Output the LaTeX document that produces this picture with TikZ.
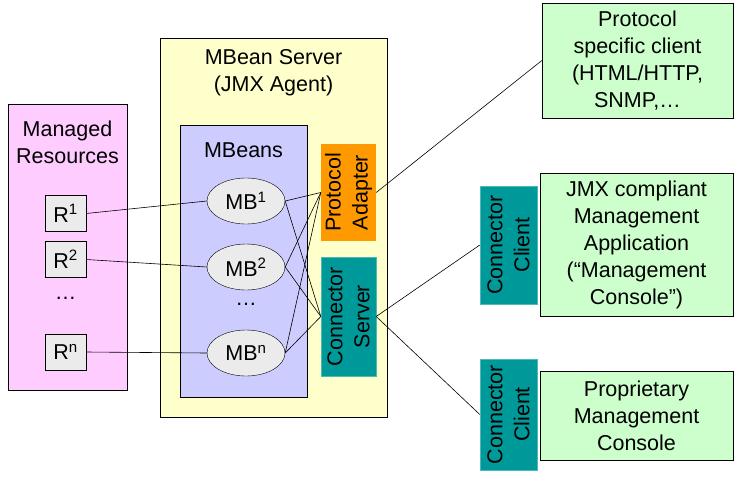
\documentclass[tikz,border=0pt]{standalone}
\usepackage{fontspec}
\setmainfont{Liberation Sans}
\usepackage{tikz}
\usetikzlibrary{shapes,positioning}
\usepackage{xcolor}

\definecolor{respink}{HTML}{FFCCFF}
\definecolor{srvyellow}{HTML}{FFFFCC}
\definecolor{beanblue}{HTML}{CCCCFF}
\definecolor{adaptorange}{HTML}{FF9900}
\definecolor{connteal}{HTML}{009999}
\definecolor{clientgreen}{HTML}{CCFFCC}
\definecolor{itemgray}{HTML}{EBEBEB}

\tikzset{
  panel/.style={draw, rectangle, inner sep=0pt},
  resbox/.style={draw, rectangle, fill=itemgray, minimum width=41, minimum height=36, inner sep=0pt},
  bean/.style={draw, ellipse, fill=itemgray, minimum width=78, minimum height=46, inner sep=0pt},
  vbox/.style={rectangle, rotate=90, align=center, inner sep=0pt},
  clientbox/.style={draw, rectangle, fill=clientgreen, align=center, inner sep=0pt},
  wire/.style={black, line width=0.6pt}
}

\begin{document}
\begin{tikzpicture}[x=1pt, y=-1pt, font=\fontsize{21.5}{27}\selectfont]
    \useasboundingbox (0,0) rectangle (741,485);

    % managed resources
    \node[panel, fill=respink, minimum width=119, minimum height=286] (managed) at (67.5,247) {};
    \node[align=center] (managedtxt) at (67.5,142) {Managed\\Resources};
    \node[resbox] (r1) at (65.5,213.5) {R\textsuperscript{1}};
    \node[resbox] (r2) at (65.5,259.5) {R\textsuperscript{2}};
    \node (rdots) at (65.5,298) {…};
    \node[resbox] (rn) at (65.5,352) {R\textsuperscript{n}};

    % agent
    \node[panel, fill=srvyellow, minimum width=227, minimum height=379] (server) at (273.5,227.5) {};
    \node[align=center] (servertxt) at (273.5,73) {MBean Server\\(JMX Agent)};
    \node[panel, fill=beanblue, minimum width=127, minimum height=272] (mbeans) at (243.5,261) {};
    \node (mbeanstxt) at (243.5,150) {MBeans};
    \node[bean] (mb1) at (246,201) {MB\textsuperscript{1}};
    \node[bean] (mb2) at (246,267) {MB\textsuperscript{2}};
    \node (mbdots) at (246,304) {…};
    \node[bean] (mbn) at (246,353) {MB\textsuperscript{n}};

    \node[vbox, fill=adaptorange, minimum width=97, minimum height=55] (adapter) at (348.5,192.5) {Protocol\\Adapter};
    \node[vbox, fill=connteal, draw=connteal!70, minimum width=119, minimum height=55] (connsrv) at (348.5,316.5) {Connector\\Server};

    % clients
    \node[vbox, fill=connteal, draw=connteal!70, minimum width=118, minimum height=57] (client1) at (508.5,245) {Connector\\Client};
    \node[vbox, fill=connteal, draw=connteal!70, minimum width=111, minimum height=57] (client2) at (508.5,414.5) {Connector\\Client};

    \node[clientbox, minimum width=191, minimum height=115] (protoclient) at (637.5,60.5) {Protocol\\specific client\\(HTML/HTTP,\\SNMP,…};
    \node[clientbox, minimum width=193, minimum height=143] (jmxclient) at (636.5,244.5) {JMX compliant\\Management\\Application\\(“Management\\Console”)};
    \node[clientbox, minimum width=193, minimum height=89] (propclient) at (636.5,415.5) {Proprietary\\Management\\Console};

    % wires
    \draw[wire] (r1.east) -- (mb1.west);
    \draw[wire] (r2.east) -- (mb2.west);
    \draw[wire] (rn.east) -- (mbn.west);

    \draw[wire] (mb1.east) -- (adapter.north);
    \draw[wire] (mb1.east) -- (connsrv.north);
    \draw[wire] (mb2.east) -- (adapter.north);
    \draw[wire] (mb2.east) -- (connsrv.north);
    \draw[wire] (mbn.east) -- (adapter.north);
    \draw[wire] (mbn.east) -- (connsrv.north);

    \draw[wire] (adapter.south) -- (protoclient.west);
    \draw[wire] (connsrv.south) -- (client1.north);
    \draw[wire] (connsrv.south) -- (client2.north);
\end{tikzpicture}
\end{document}
